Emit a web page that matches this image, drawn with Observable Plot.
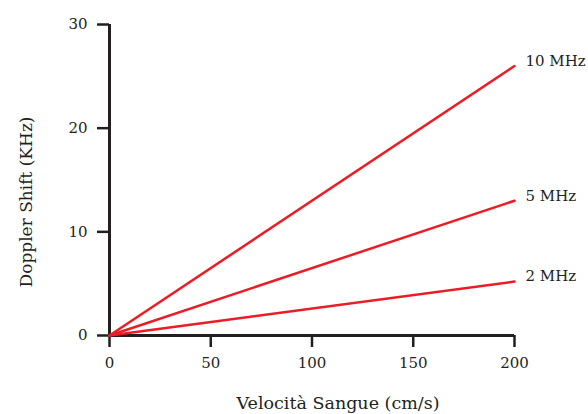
<!DOCTYPE html>
<html>
<head>
<meta charset="utf-8">
<script src="https://cdn.jsdelivr.net/npm/d3@7"></script>
<script src="https://cdn.jsdelivr.net/npm/@observablehq/plot@0.6"></script>
<style>
  html, body { margin: 0; padding: 0; background: #fff; }
</style>
</head>
<body>
<div id="chart"></div>
<script>
const velocity = [0, 200];
const seriesNames = ["10 MHz", "5 MHz", "2 MHz"];
const shift10 = [0, 26.0];
const shift5 = [0, 13.0];
const shift2 = [0, 5.2];
const xTicks = [0, 50, 100, 150, 200];
const yTicks = [0, 10, 20, 30];

const seriesValues = [shift10, shift5, shift2];
const rows = [];
seriesNames.forEach((name, i) => {
  velocity.forEach((v, j) => rows.push({series: name, v, s: seriesValues[i][j], last: j === velocity.length - 1}));
});

const ink = "#231f20";
const red = "#ed1c24";

const chart = Plot.plot({
  width: 588,
  height: 414,
  marginLeft: 109,
  marginRight: 74,
  marginTop: 24,
  marginBottom: 79,
  style: {fontFamily: "DejaVu Serif", fontSize: "15px", color: ink, background: "#fff"},
  x: {domain: [0, 200]},
  y: {domain: [0, 30]},
  marks: [
    Plot.axisX({ticks: xTicks, tickSize: 12, tickPadding: 10, strokeWidth: 2.5, stroke: ink, label: null, fontSize: 15}),
    Plot.axisY({ticks: yTicks, tickSize: 12, tickPadding: 10, strokeWidth: 2.5, stroke: ink, label: null, fontSize: 15}),
    Plot.ruleY([0], {stroke: ink, strokeWidth: 3}),
    Plot.ruleX([0], {stroke: ink, strokeWidth: 3}),
    Plot.line(rows, {x: "v", y: "s", z: "series", stroke: red, strokeWidth: 2.5}),
    Plot.text(rows.filter(d => d.last), {x: "v", y: "s", text: "series", textAnchor: "start", dx: 11, dy: -5, fill: ink, fontSize: 15}),
    Plot.text(["Doppler Shift (KHz)"], {frameAnchor: "left", textAnchor: "middle", rotate: -90, dx: -83, dy: 22, fill: ink, fontSize: 17}),
    Plot.text(["Velocità Sangue (cm/s)"], {frameAnchor: "bottom", textAnchor: "middle", dx: 26, dy: 73, fill: ink, fontSize: 17.5})
  ]
});
document.getElementById("chart").appendChild(chart);
</script>
</body>
</html>
